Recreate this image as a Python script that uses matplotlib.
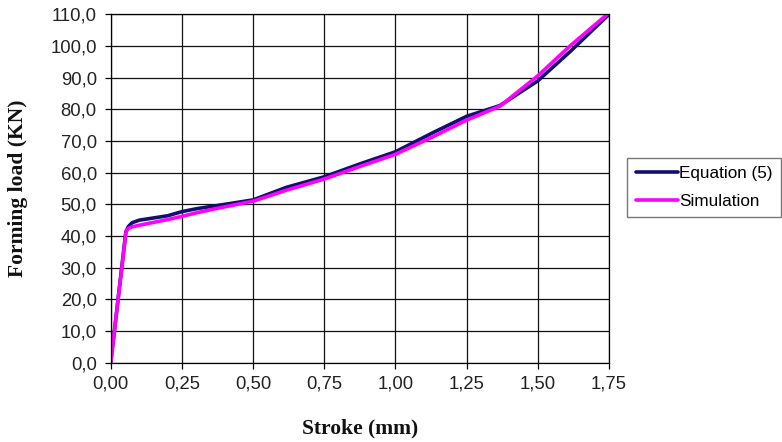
import matplotlib
matplotlib.use("Agg")
import matplotlib.pyplot as plt
from matplotlib.ticker import FuncFormatter

# Stroke (mm) and forming load (kN) for both curves
stroke_eq = [0.0, 0.053, 0.062, 0.075, 0.10, 0.15, 0.20, 0.25, 0.30, 0.372, 0.50,
             0.618, 0.75, 0.876, 1.00, 1.133, 1.25, 1.367, 1.50, 1.613, 1.75]
load_eq = [0.0, 41.3, 43.0, 44.2, 45.0, 45.7, 46.4, 47.7, 48.6, 49.6, 51.4,
           55.4, 58.7, 62.8, 66.6, 72.7, 77.8, 81.2, 89.0, 98.2, 110.0]

stroke_sim = [0.0, 0.054, 0.062, 0.075, 0.10, 0.15, 0.20, 0.25, 0.30, 0.372, 0.50,
              0.618, 0.75, 0.876, 1.00, 1.133, 1.25, 1.367, 1.50, 1.613, 1.75]
load_sim = [0.0, 41.5, 42.4, 42.9, 43.4, 44.3, 45.2, 46.2, 47.3, 48.7, 51.0,
            54.5, 58.0, 62.0, 65.8, 71.4, 76.6, 81.0, 90.6, 100.0, 110.5]

x_ticks = [0.0, 0.25, 0.50, 0.75, 1.00, 1.25, 1.50, 1.75]
y_ticks = list(range(0, 111, 10))

fig = plt.figure(figsize=(7.82, 4.42), dpi=100)
ax = fig.add_axes([0.1416, 0.1794, 0.6372, 0.7882])

ax.plot(stroke_eq, load_eq, color="#101070", lw=2.6, label="Equation (5)",
        solid_capstyle="round", solid_joinstyle="round")
ax.plot(stroke_sim, load_sim, color="#ff00ff", lw=2.6, label="Simulation",
        solid_capstyle="round", solid_joinstyle="round")

ax.set_xlim(0, 1.75)
ax.set_ylim(0, 110)
ax.set_xticks(x_ticks)
ax.set_yticks(y_ticks)
ax.grid(True, color="#111111", lw=0.9)
ax.set_axisbelow(True)
for s in ax.spines.values():
    s.set_color("black")
    s.set_linewidth(0.9)

comma = lambda fmt: FuncFormatter(lambda v, p: (fmt % v).replace(".", ","))
ax.xaxis.set_major_formatter(comma("%.2f"))
ax.yaxis.set_major_formatter(comma("%.1f"))
ax.tick_params(direction="out", length=4, width=0.9, color="black",
               labelsize=13.3)
ax.tick_params(axis="y", pad=6)
ax.tick_params(axis="x", pad=5)
for lab in ax.get_xticklabels() + ax.get_yticklabels():
    lab.set_family("Liberation Sans")
    lab.set_color("#222222")

ax.set_xlabel("Stroke (mm)", family="Liberation Serif", fontsize=15.5,
              fontweight="bold", color="#111111")
ax.xaxis.set_label_coords(0.5, ((442 - 428) / 442 - 0.1794) / 0.7882)
ax.xaxis.label.set_va("center")
ax.set_ylabel("Forming load (KN)", family="Liberation Serif", fontsize=15.5,
              fontweight="bold", color="#111111")
ax.yaxis.set_label_coords((18 - 110.7) / 782 / 0.6372, 0.5)
ax.yaxis.label.set_va("center")

leg = fig.legend(loc="center left", bbox_to_anchor=(627 / 782, (442 - 187.5) / 442),
                 frameon=True, fancybox=False, edgecolor="#555555",
                 prop={"family": "Liberation Sans", "size": 12.3},
                 handlelength=2.5, handletextpad=0.05, borderpad=0.5,
                 labelspacing=0.75, borderaxespad=0)
leg.get_frame().set_linewidth(1.0)

fig.savefig("out.png", dpi=100)
